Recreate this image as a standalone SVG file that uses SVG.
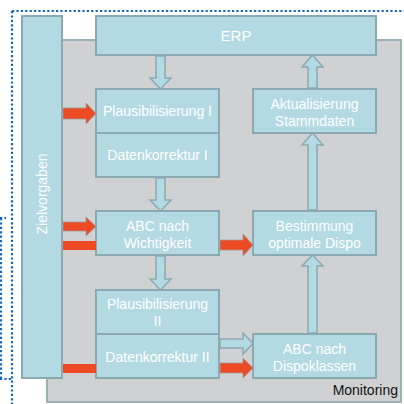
<svg xmlns="http://www.w3.org/2000/svg" width="404" height="404" viewBox="0 0 404 404">
<style>
.box{fill:#b3dae2;stroke:#8ba9b0;stroke-width:2}
.bg{fill:#d0d1d3;stroke:#9cb0b5;stroke-width:2}
.t{font-family:"Liberation Sans",Arial,sans-serif;font-size:14px;fill:#ffffff;text-anchor:middle}
.ha{fill:#b3dae2;stroke:#8ba9b0;stroke-width:1.5;stroke-linejoin:miter}
.ra{fill:#ee4a24;stroke:#9a9ea0;stroke-width:0.8}
.rb{fill:#ee4a24}
.dot{fill:none;stroke:#1565c0;stroke-width:2.2;stroke-dasharray:2.2 2.2}
</style>
<rect width="404" height="404" fill="#ffffff"/>
<g id="frame">
<path class="dot" d="M12 11 H404 M12 11 V404"/>
<path class="dot" d="M0 218 H6 M1 218 V379 M0 379 H12"/>
</g>
<g id="monitoring">
<rect class="bg" x="47" y="40" width="354" height="362"/>
<text x="398" y="395" style="font-family:'Liberation Sans',Arial,sans-serif;font-size:14px;fill:#111111;text-anchor:end">Monitoring</text>
</g>
<g id="zielvorgaben">
<rect class="box" x="22" y="16" width="40" height="362"/>
<text class="t" transform="translate(47,194) rotate(-90)">Zielvorgaben</text>
</g>
<g id="erp">
<rect class="box" x="96" y="16" width="280" height="39"/>
<text class="t" x="236" y="41" style="font-size:15px">ERP</text>
</g>
<g id="plaus1">
<rect class="box" x="96" y="89" width="123" height="44"/>
<text class="t" x="157.5" y="116">Plausibilisierung I</text>
</g>
<g id="daten1">
<rect class="box" x="96" y="133" width="123" height="44"/>
<text class="t" x="157.5" y="160">Datenkorrektur I</text>
</g>
<g id="abcw">
<rect class="box" x="96" y="211" width="123" height="44"/>
<text class="t" x="157.5" y="231">ABC nach</text>
<text class="t" x="157.5" y="248">Wichtigkeit</text>
</g>
<g id="plaus2">
<rect class="box" x="96" y="290" width="123" height="44"/>
<text class="t" x="157.5" y="309">Plausibilisierung</text>
<text class="t" x="157.5" y="326">II</text>
</g>
<g id="daten2">
<rect class="box" x="96" y="334" width="123" height="44"/>
<text class="t" x="157.5" y="362">Datenkorrektur II</text>
</g>
<g id="aktual">
<rect class="box" x="253" y="89" width="123" height="44"/>
<text class="t" x="314.5" y="109">Aktualisierung</text>
<text class="t" x="314.5" y="126">Stammdaten</text>
</g>
<g id="bestimmung">
<rect class="box" x="253" y="211" width="123" height="44"/>
<text class="t" x="314.5" y="231">Bestimmung</text>
<text class="t" x="314.5" y="248">optimale Dispo</text>
</g>
<g id="abcd">
<rect class="box" x="253" y="334" width="123" height="44"/>
<text class="t" x="314.5" y="354">ABC nach</text>
<text class="t" x="314.5" y="371">Dispoklassen</text>
</g>
<g id="connectors">
<path class="ha" d="M156 56 H165 V78 H171 L160.5 89 L150 78 H156 Z"/>
<path class="ha" d="M156 178 H165 V200 H171 L160.5 211 L150 200 H156 Z"/>
<path class="ha" d="M156 256 H165 V279 H171 L160.5 290 L150 279 H156 Z"/>
<path class="ha" d="M308 88 H317 V67 H323 L312.5 55 L302 67 H308 Z"/>
<path class="ha" d="M308 210 H317 V145 H323 L312.5 133 L302 145 H308 Z"/>
<path class="ha" d="M308 333 H317 V266 H323 L312.5 255 L302 266 H308 Z"/>
<path class="ha" d="M220 339 H243 V333 L253 343.5 L243 354 V348 H220 Z"/>
<path class="ra" d="M63 108 H86 V103 L96 113.5 L86 124 V119 H63 Z"/>
<path class="ra" d="M63 222 H86 V217 L96 226.5 L86 236 V231 H63 Z"/>
<rect class="rb" x="63" y="241" width="33" height="9"/>
<rect class="rb" x="63" y="364" width="33" height="9"/>
<path class="ra" d="M220 240 H243 V234 L253 245 L243 256 V250 H220 Z"/>
<path class="ra" d="M220 363 H243 V358 L253 368 L243 378 V373 H220 Z"/>
</g>
</svg>
